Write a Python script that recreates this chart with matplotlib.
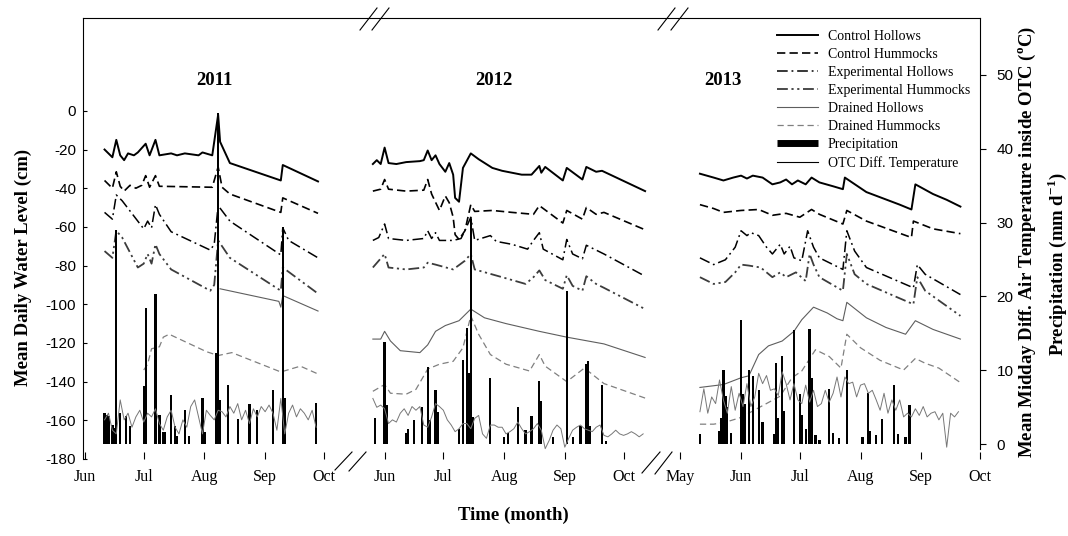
import numpy as np
import matplotlib
matplotlib.use("Agg")
import matplotlib.pyplot as plt
from matplotlib.lines import Line2D

SERIF = "Liberation Serif"
SANS = "Liberation Sans"

# ---- layout of the broken time axis: each season is a block on one x axis (days)
SEASON_START = {2011: "2011-06-01", 2012: "2012-06-01", 2013: "2013-05-01"}
SEASON_OFFSET = {2011: 1.0, 2012: 154.0, 2013: 305.0}
MONTH_TICKS = {
    2011: ["06-01", "07-01", "08-01", "09-01", "10-01"],
    2012: ["06-01", "07-01", "08-01", "09-01", "10-01"],
    2013: ["05-01", "06-01", "07-01", "08-01", "09-01", "10-01"],
}
MONTH_LABELS = {
    2011: ["Jun", "Jul", "Aug", "Sep", "Oct"],
    2012: ["Jun", "Jul", "Aug", "Sep", "Oct"],
    2013: ["May", "Jun", "Jul", "Aug", "Sep", "Oct"],
}

# ---- water table (cm)
ctrl_hol_2011 = [("06-11", -20), ("06-15", -24), ("06-17", -15), ("06-19", -23), ("06-21", -25.5),
                 ("06-23", -22), ("06-26", -23), ("06-28", -21.5), ("07-02", -17), ("07-04", -23),
                 ("07-07", -15), ("07-09", -23), ("07-15", -22), ("07-18", -23), ("07-22", -22),
                 ("07-29", -23), ("07-31", -21.5), ("08-05", -23), ("08-08", -2), ("08-09", -16),
                 ("08-14", -27), ("09-09", -36), ("09-10", -28), ("09-28", -36.5)]
ctrl_hum_2011 = [("06-11", -36), ("06-15", -40), ("06-17", -31.5), ("06-19", -39), ("06-21", -41.5),
                 ("06-24", -38.5), ("06-27", -40), ("06-30", -38.5), ("07-02", -33.5), ("07-04", -39.5),
                 ("07-07", -33.5), ("07-09", -39), ("08-05", -39.5), ("08-08", -29), ("08-10", -39.5),
                 ("08-14", -43), ("09-09", -52.5), ("09-10", -45), ("09-28", -53)]
exp_hol_2011 = [("06-11", -52.5), ("06-15", -56), ("06-17", -43.5), ("06-20", -46.5), ("07-01", -61),
                ("07-03", -57), ("07-05", -60.5), ("07-07", -48.5), ("07-09", -53.5), ("07-15", -62.5),
                ("08-04", -72), ("08-06", -69), ("08-08", -49), ("08-14", -57), ("09-09", -74.5),
                ("09-10", -60.5), ("09-13", -67), ("09-28", -76)]
exp_hum_2011 = [("06-11", -72.5), ("06-15", -76), ("06-17", -62), ("06-20", -65.5), ("06-28", -81),
                ("07-01", -79), ("07-03", -74), ("07-05", -79), ("07-07", -69), ("07-09", -74),
                ("07-15", -82), ("08-04", -93), ("08-06", -90), ("08-08", -67), ("08-14", -76),
                ("09-09", -93), ("09-10", -81), ("09-28", -94.5)]
drn_hol_2011 = [("08-09", -92), ("09-08", -98.5), ("09-09", -101.5), ("09-10", -95.5), ("09-28", -103.5)]
drn_hum_2011 = [("07-01", -134), ("07-03", -131), ("07-05", -123), ("07-09", -122), ("07-11", -117),
                ("07-14", -115.5), ("08-02", -124.5), ("08-08", -126.5), ("08-15", -125), ("09-09", -135),
                ("09-19", -132), ("09-29", -136.5)]

ctrl_hol_2012 = [("05-26", -27.5), ("05-28", -25.5), ("05-30", -27.5), ("06-01", -19), ("06-03", -27),
                 ("06-07", -27.5), ("06-12", -26.5), ("06-19", -26), ("06-21", -25.5), ("06-23", -20.5),
                 ("06-25", -25.5), ("06-27", -23), ("06-29", -27.5), ("07-02", -31.5), ("07-04", -27),
                 ("07-06", -33), ("07-07", -45), ("07-09", -47), ("07-11", -29.5), ("07-15", -22),
                 ("07-19", -25), ("07-26", -29.5), ("07-31", -31), ("08-05", -32), ("08-10", -33),
                 ("08-15", -33), ("08-19", -28.5), ("08-20", -32), ("08-22", -29), ("08-31", -36),
                 ("09-02", -29.5), ("09-10", -35.5), ("09-12", -29), ("09-17", -31.5), ("09-20", -31),
                 ("10-12", -41.5)]
ctrl_hum_2012 = [("05-26", -41.5), ("05-30", -40.5), ("06-01", -35.5), ("06-03", -40.5), ("06-12", -41.5),
                 ("06-21", -41), ("06-23", -35.5), ("06-25", -43), ("06-29", -51.5), ("07-02", -44),
                 ("07-04", -47.5), ("07-06", -55), ("07-07", -64), ("07-09", -66.5), ("07-12", -62),
                 ("07-15", -48.5), ("07-17", -52), ("07-26", -51.5), ("08-05", -52.5), ("08-16", -53.5),
                 ("08-19", -49), ("08-31", -58), ("09-02", -51.5), ("09-10", -56), ("09-12", -50),
                 ("09-17", -53.5), ("09-21", -52.5), ("10-12", -61.5)]
exp_hol_2012 = [("05-26", -67), ("05-29", -65.5), ("06-01", -58.5), ("06-03", -66), ("06-12", -67),
                ("06-21", -66), ("06-23", -62), ("06-25", -66), ("06-27", -63), ("06-29", -67),
                ("07-06", -67), ("07-10", -66), ("07-12", -62), ("07-15", -55), ("07-17", -67),
                ("07-25", -64.5), ("07-28", -67.5), ("08-05", -69), ("08-13", -71.5), ("08-16", -67),
                ("08-19", -63), ("08-21", -71.5), ("08-31", -77), ("09-02", -66.5), ("09-05", -74),
                ("09-10", -76.5), ("09-12", -69.5), ("09-16", -71.5), ("09-21", -74), ("10-12", -85.5)]
exp_hum_2012 = [("05-26", -81), ("06-01", -74), ("06-03", -81), ("06-12", -82), ("06-21", -81),
                ("06-23", -78.5), ("06-27", -79.5), ("07-06", -82), ("07-12", -77.5), ("07-15", -74),
                ("07-17", -82), ("07-31", -86), ("08-12", -89.5), ("08-16", -86), ("08-19", -82.5),
                ("08-22", -87.5), ("08-31", -92), ("09-02", -85), ("09-05", -90.5), ("09-10", -93),
                ("09-12", -85.5), ("09-17", -89.5), ("09-21", -91.5), ("10-12", -102.5)]
drn_hol_2012 = [("05-26", -118), ("05-30", -118), ("06-01", -114), ("06-04", -119), ("06-09", -124),
                ("06-19", -125), ("06-23", -121), ("06-27", -114), ("07-02", -111), ("07-09", -108.5),
                ("07-13", -104.5), ("07-15", -102.5), ("07-22", -107), ("08-02", -110), ("08-19", -114),
                ("09-02", -117), ("09-21", -120.5), ("10-12", -127.5)]
drn_hum_2012 = [("05-26", -145), ("06-01", -141.5), ("06-04", -146), ("06-12", -146.5), ("06-17", -144),
                ("06-23", -133.5), ("06-29", -131), ("07-06", -129.5), ("07-11", -122.5), ("07-15", -106),
                ("07-19", -115.5), ("07-25", -126), ("08-02", -131), ("08-14", -134.5), ("08-19", -126),
                ("08-22", -132), ("09-02", -140), ("09-11", -133), ("09-21", -141), ("10-12", -148.5)]

ctrl_hol_2013 = [("05-11", -32.5), ("05-18", -34.5), ("05-23", -36), ("05-28", -34.5), ("06-01", -33.5),
                 ("06-04", -35), ("06-07", -33.5), ("06-12", -34.5), ("06-17", -38), ("06-21", -37),
                 ("06-24", -35.5), ("06-27", -38), ("06-30", -36), ("07-04", -38), ("07-07", -34.5),
                 ("07-11", -37), ("07-18", -39), ("07-23", -40.5), ("07-24", -34.5), ("08-04", -42),
                 ("08-21", -48.5), ("08-27", -51), ("08-29", -38), ("09-07", -43), ("09-14", -46),
                 ("09-21", -49.5)]
ctrl_hum_2013 = [("05-11", -48.5), ("05-18", -50.5), ("05-23", -52.5), ("06-01", -51.5), ("06-10", -51),
                 ("06-17", -54), ("06-24", -53), ("07-01", -55), ("07-07", -51), ("07-11", -53.5),
                 ("07-23", -58.5), ("07-25", -51.5), ("08-04", -57), ("08-27", -65.5), ("08-28", -57),
                 ("09-07", -61), ("09-21", -63.5)]
exp_hol_2013 = [("05-11", -76), ("05-18", -79.5), ("05-24", -77), ("05-29", -70.5), ("06-01", -62),
                ("06-04", -64.5), ("06-06", -63), ("06-10", -64.5), ("06-14", -70.5), ("06-17", -74),
                ("06-21", -69), ("06-23", -74), ("06-26", -70), ("06-28", -76), ("07-02", -77.5),
                ("07-05", -62), ("07-08", -70.5), ("07-11", -76), ("07-23", -82), ("07-25", -62),
                ("07-29", -72.5), ("08-04", -81), ("08-28", -91.5), ("08-30", -79.5), ("09-03", -84.5),
                ("09-21", -95)]
exp_hum_2013 = [("05-11", -86), ("05-18", -89.5), ("05-24", -88.5), ("05-29", -83.5), ("06-01", -79.5),
                ("06-05", -80), ("06-11", -81), ("06-17", -86), ("06-21", -83.5), ("06-24", -86),
                ("06-29", -83.5), ("07-04", -88), ("07-06", -74), ("07-08", -79.5), ("07-11", -86),
                ("07-23", -93), ("07-25", -74), ("07-29", -84.5), ("08-04", -89.5), ("08-28", -100),
                ("08-30", -86), ("09-03", -93), ("09-21", -106)]
drn_hol_2013 = [("05-11", -143), ("05-23", -141.5), ("06-01", -138), ("06-05", -137), ("06-10", -126),
                ("06-15", -121.5), ("06-22", -119), ("06-28", -114), ("07-02", -108), ("07-08", -101.5),
                ("07-15", -104.5), ("07-20", -107.5), ("07-23", -108.5), ("07-25", -99), ("08-04", -107),
                ("08-14", -112), ("08-24", -115.5), ("08-29", -108.5), ("09-07", -113), ("09-21", -118)]
drn_hum_2013 = [("05-11", -162), ("05-18", -162), ("05-24", -161), ("06-01", -158.5), ("06-10", -153.5),
                ("06-21", -147.5), ("06-27", -138), ("07-02", -134.5), ("07-09", -123.5), ("07-16", -127),
                ("07-22", -133), ("07-25", -115.5), ("08-01", -122.5), ("08-11", -129), ("08-23", -134),
                ("08-29", -128), ("09-03", -130.5), ("09-10", -133), ("09-21", -140.5)]

# ---- daily precipitation (mm d-1), only the rainy days
precip_2011 = [("06-11", 4.2), ("06-12", 4.0), ("06-13", 3.8), ("06-15", 2.6), ("06-16", 2.2), ("06-17", 29.0),
               ("06-19", 4.2), ("06-22", 3.8), ("06-24", 2.5), ("07-01", 7.9), ("07-02", 18.5), ("07-07", 20.3),
               ("07-09", 4.0), ("07-11", 1.6), ("07-12", 1.6), ("07-15", 6.7), ("07-17", 2.5), ("07-18", 1.1),
               ("07-22", 4.7), ("07-24", 1.1), ("07-31", 6.2), ("08-01", 1.6), ("08-07", 12.3), ("08-08", 44.8),
               ("08-09", 6.0), ("08-13", 8.0), ("08-18", 3.4), ("08-24", 5.4), ("08-28", 4.7), ("09-05", 7.4),
               ("09-10", 29.4), ("09-11", 6.2), ("09-27", 5.6)]
precip_2012 = [("05-27", 3.5), ("06-01", 13.8), ("06-02", 5.3), ("06-12", 1.5), ("06-13", 2.0), ("06-16", 3.3),
               ("06-20", 5.0), ("06-23", 10.4), ("06-24", 3.3), ("06-27", 7.4), ("06-28", 4.3), ("07-09", 2.0),
               ("07-11", 11.4), ("07-13", 15.8), ("07-14", 9.6), ("07-15", 30.5), ("07-16", 3.7), ("07-25", 8.9),
               ("08-01", 1.0), ("08-03", 1.5), ("08-08", 5.1), ("08-12", 1.9), ("08-15", 3.8), ("08-19", 8.6),
               ("08-20", 5.8), ("08-26", 1.0), ("09-02", 20.8), ("09-05", 1.0), ("09-09", 2.5), ("09-12", 10.9),
               ("09-13", 11.2), ("09-14", 2.4), ("09-20", 8.0), ("09-22", 0.5)]
precip_2013 = [("05-11", 1.4), ("05-21", 1.8), ("05-22", 3.6), ("05-23", 10.0), ("05-24", 6.5), ("05-25", 5.0),
               ("05-27", 1.5), ("06-01", 16.8), ("06-02", 6.8), ("06-03", 5.5), ("06-05", 10.0), ("06-07", 9.3),
               ("06-10", 7.3), ("06-12", 3.0), ("06-18", 1.4), ("06-19", 11.0), ("06-20", 3.5), ("06-22", 12.0),
               ("06-23", 4.5), ("06-28", 15.4), ("07-01", 6.8), ("07-02", 4.0), ("07-04", 2.0), ("07-06", 15.6),
               ("07-07", 9.0), ("07-09", 1.2), ("07-11", 0.6), ("07-16", 7.5), ("07-18", 1.5), ("07-21", 0.8),
               ("07-25", 10.0), ("08-02", 1.0), ("08-05", 7.0), ("08-06", 1.8), ("08-09", 1.2), ("08-12", 3.4),
               ("08-18", 8.0), ("08-20", 1.4), ("08-24", 1.0), ("08-26", 5.3)]

# ---- OTC midday temperature difference (deg C), one reading every 2nd day
otc_start = {2011: "06-11", 2012: "05-26", 2013: "05-11"}
otc_2011 = [3.3, 4.2, 1.9, 1.4, 6.0, 3.3, 4.2, 2.3, 3.7, 4.6, 3.0, 4.2, 3.7, 4.8, 2.8, 1.9, 3.7, 4.6, 2.3,
            1.4, 3.3, 2.3, 5.1, 6.0, 3.7, 1.4, 4.6, 3.9, 3.3, 4.6, 4.4, 3.7, 5.1, 4.2, 5.5, 3.3, 4.6, 2.8,
            4.8, 3.7, 5.1, 4.4, 5.3, 4.2, 1.9, 6.2, 1.4, 4.2, 5.3, 3.7, 4.8, 4.2, 3.3, 4.6, 2.3]
otc_2012 = [6.2, 5.0, 5.3, 4.8, 2.8, 3.3, 3.0, 4.2, 4.8, 3.9, 5.1, 4.6, 5.1, 2.6, 2.3, 3.7, 5.5, 5.1, 4.6,
            3.3, 2.6, 1.7, 2.1, 2.8, 2.8, 2.1, 3.5, 3.9, 1.4, 0.8, 2.6, 2.6, 2.3, 2.3, 1.4, 1.7, 2.1, 3.0,
            2.1, 1.4, 1.7, 2.1, 2.8, 1.9, -0.6, 0.5, 1.9, 2.6, 2.1, -0.4, 0.8, 1.9, 2.3, 2.6, 2.1, 1.9,
            1.7, 2.3, 2.6, 1.2, 1.0, 1.4, 1.9, 1.4, 1.2, 1.4, 1.7, 1.4, 1.0, 1.4]
otc_2013 = [4.4, 7.5, 4.2, 6.4, 5.5, 8.7, 6.0, 4.2, 7.8, 4.6, 6.9, 5.1, 8.2, 5.1, 6.4, 9.6, 8.2, 9.3, 7.3,
            7.5, 6.6, 9.8, 8.2, 6.0, 8.2, 6.0, 5.5, 8.0, 5.7, 7.3, 5.1, 5.5, 7.3, 5.7, 6.9, 9.1, 6.4, 9.1,
            8.2, 8.4, 6.4, 8.0, 8.2, 6.9, 7.3, 6.0, 4.6, 6.9, 4.2, 6.0, 4.6, 6.0, 3.7, 4.2, 3.7, 4.8, 3.9,
            5.1, 3.7, 4.2, 4.4, 3.3, 4.2, -0.4, 4.2, 3.7, 4.4]

SERIES = ["Control Hollows", "Control Hummocks", "Experimental Hollows",
          "Experimental Hummocks", "Drained Hollows", "Drained Hummocks"]
water = {
    2011: [ctrl_hol_2011, ctrl_hum_2011, exp_hol_2011, exp_hum_2011, drn_hol_2011, drn_hum_2011],
    2012: [ctrl_hol_2012, ctrl_hum_2012, exp_hol_2012, exp_hum_2012, drn_hol_2012, drn_hum_2012],
    2013: [ctrl_hol_2013, ctrl_hum_2013, exp_hol_2013, exp_hum_2013, drn_hol_2013, drn_hum_2013],
}
precip = {2011: precip_2011, 2012: precip_2012, 2013: precip_2013}
otc = {2011: otc_2011, 2012: otc_2012, 2013: otc_2013}

STYLES = {
    "Control Hollows": dict(color="black", lw=1.4, ls="-"),
    "Control Hummocks": dict(color="black", lw=1.2, ls=(0, (5, 2.5))),
    "Experimental Hollows": dict(color="black", lw=1.1, ls=(0, (7, 2.5, 1.2, 2.5))),
    "Experimental Hummocks": dict(color="#3c3c3c", lw=1.3, ls=(0, (6, 2, 1.2, 2, 1.2, 2))),
    "Drained Hollows": dict(color="#5e5e5e", lw=0.8, ls="-"),
    "Drained Hummocks": dict(color="#808080", lw=0.9, ls=(0, (5, 3))),
}
OTC_STYLE = dict(color="#777777", lw=0.7)


def to_x(year, dates):
    d = np.array([f"{year}-{s}" for s in dates], dtype="datetime64[D]")
    return (d - np.datetime64(SEASON_START[year])).astype(float) + SEASON_OFFSET[year]


W, H = 1068, 536
fig = plt.figure(figsize=(W / 100, H / 100), dpi=100)
ax = fig.add_axes([83 / W, 1 - 459 / H, (980 - 83) / W, (459 - 18) / H])
ax2 = ax.twinx()

for year in water:
    for name, pts in zip(SERIES, water[year]):
        dates, vals = zip(*pts)
        ax.plot(to_x(year, dates), vals, **STYLES[name])
    dates, mm = zip(*precip[year])
    ax2.bar(to_x(year, dates), mm, width=1.15, color="black", linewidth=0)
    t = otc[year]
    xt = to_x(year, [otc_start[year]])[0] + 2 * np.arange(len(t))
    ax2.plot(xt, t, **OTC_STYLE)

ax.set_xlim(0, 458)
ax.set_ylim(-180, 48)
ax2.set_ylim(-2.0, 57.7)

# x ticks: months of each season
xt_pos, xt_lab = [], []
for year in MONTH_TICKS:
    xt_pos += list(to_x(year, MONTH_TICKS[year]))
    xt_lab += MONTH_LABELS[year]
ax.set_xticks(xt_pos, labels=xt_lab)
ax.tick_params(axis="x", direction="in", length=5, pad=7, labelsize=11.5)
for lab in ax.get_xticklabels():
    lab.set_fontfamily(SERIF)

yt = list(range(-180, 1, 20))
ax.set_yticks(yt, labels=[str(v) for v in yt])
ax.tick_params(axis="y", direction="in", length=3, pad=5, labelsize=11)
for lab in ax.get_yticklabels():
    lab.set_fontfamily(SANS)

rt = list(range(0, 51, 10))
ax2.set_yticks(rt, labels=[str(v) for v in rt])
ax2.tick_params(axis="y", direction="out", length=4, pad=8, labelsize=11)
for lab in ax2.get_yticklabels():
    lab.set_fontfamily(SANS)

for a in (ax, ax2):
    a.spines["bottom"].set_visible(False)
ax.spines["right"].set_visible(False)
ax2.spines["left"].set_visible(False)
ax2.spines["top"].set_visible(False)
ax2.spines["right"].set_bounds(-0.6, 57.7)

# year headings
for txt, xf in [("2011", 0.147), ("2012", 0.458), ("2013", 0.7135)]:
    ax.text(xf, 0.859, txt, transform=ax.transAxes, ha="center", va="center",
            fontsize=13.5, fontweight="bold", fontfamily=SERIF)

# axis break marks "//" (figure pixels)
breaks = [
    [(360, 30), (377, 8)], [(372, 30), (389, 8)],
    [(658, 30), (675, 8)], [(671, 30), (688, 8)],
    [(335, 470), (352, 452)], [(349, 471), (366, 452)],
    [(642, 473), (660, 452)], [(655, 474), (672, 452)],
]
for (x0, y0), (x1, y1) in breaks:
    fig.add_artist(Line2D([x0 / W, x1 / W], [1 - y0 / H, 1 - y1 / H],
                          transform=fig.transFigure, color="black", lw=0.8))

# legend
handles = [Line2D([], [], **STYLES[n]) for n in SERIES]
handles.append(Line2D([], [], color="black", lw=5, solid_capstyle="butt"))
handles.append(Line2D([], [], color="black", lw=0.8))
labels = SERIES + ["Precipitation", "OTC Diff. Temperature"]
ax2.legend(handles, labels, loc="upper right", bbox_to_anchor=(1.0, 0.995), frameon=False,
           prop={"family": SERIF, "size": 10}, handlelength=3.0, handletextpad=0.7,
           labelspacing=0.36, borderaxespad=0.3)

# axis titles
bold = dict(fontsize=13.5, fontweight="bold", fontfamily=SERIF, ha="center", va="center")
fig.text(23 / W, 1 - 267 / H, "Mean Daily Water Level (cm)", rotation=90, **bold)
fig.text(1027 / W, 1 - 242 / H, r"Mean Midday Diff. Air Temperature inside OTC ($^{\mathregular{o}}$C)",
         rotation=90, **bold)
fig.text(1057 / W, 1 - 264 / H, r"Precipitation (mm d$^{\mathregular{-1}}$)", rotation=90, **bold)
fig.text(513 / W, 1 - 515 / H, "Time (month)", **bold)

fig.savefig("out.png", dpi=100)
